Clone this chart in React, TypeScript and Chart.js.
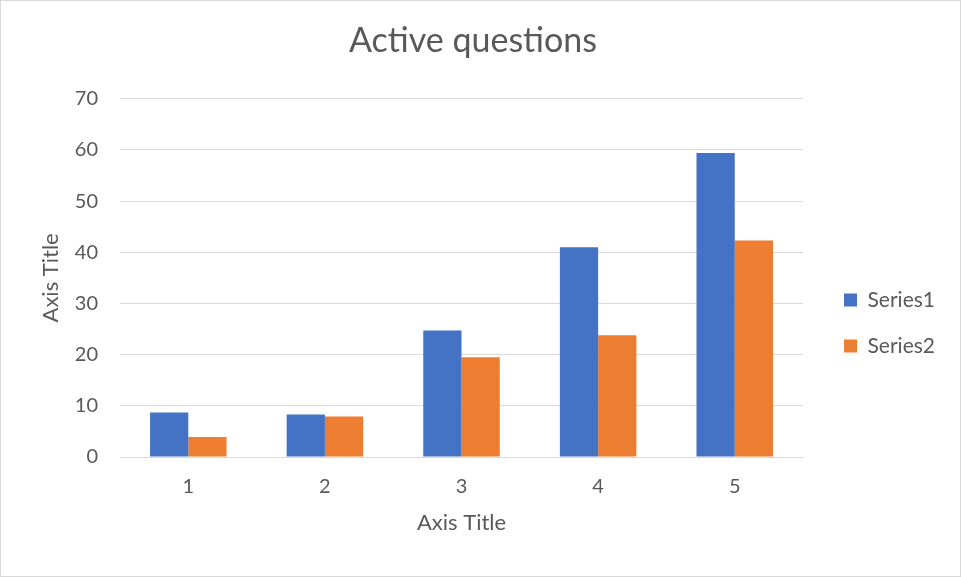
import React, { useEffect, useRef } from "react";
import { Chart, registerables } from "chart.js";

Chart.register(...registerables);

const categories = ["1", "2", "3", "4", "5"];
const series1 = [8.7, 8.3, 24.7, 41.0, 59.4];
const series2 = [3.9, 7.9, 19.5, 23.8, 42.3];
const seriesNames = ["Series1", "Series2"];
const yTicks = { min: 0, max: 70, step: 10 };

const FONT = "Lato, 'Open Sans', sans-serif";
const GRAY = "#595959";

export default function App() {
  const ref = useRef<HTMLCanvasElement | null>(null);
  useEffect(() => {
    if (!ref.current) return;
    const chart = new Chart(ref.current, {
      type: "bar",
      data: {
        labels: categories,
        datasets: [
          { label: seriesNames[0], data: series1, backgroundColor: "#4472c4", borderWidth: 0 },
          { label: seriesNames[1], data: series2, backgroundColor: "#ed7d31", borderWidth: 0 },
        ],
      },
      options: {
        animation: false,
        responsive: true,
        maintainAspectRatio: false,
        layout: { padding: { left: 0, right: 15, top: 0, bottom: 0 } },
        datasets: { bar: { categoryPercentage: 0.56, barPercentage: 1 } },
        plugins: {
          title: {
            display: true,
            text: "Active questions",
            color: GRAY,
            font: { family: FONT, size: 34, weight: "normal" },
            padding: { top: 20, bottom: 37 },
          },
          legend: {
            position: "right",
            title: {
              display: true,
              text: " ",
              font: { size: 12 },
              padding: { top: 0, bottom: 54.6 },
            },
            labels: {
              color: GRAY,
              font: { family: FONT, size: 21 },
              boxWidth: 13,
              boxHeight: 13,
              padding: 25,
            },
          },
          tooltip: { enabled: false },
        },
        scales: {
          x: {
            grid: { display: false, drawTicks: false },
            border: { color: "#d9d9d9", width: 1 },
            ticks: { color: GRAY, font: { family: FONT, size: 20 }, padding: 18 },
            title: {
              display: true,
              text: "Axis Title",
              color: GRAY,
              font: { family: FONT, size: 22 },
              padding: { top: 0, bottom: 40 },
            },
            afterFit: (s: any) => {
              s.height = 119;
            },
          },
          y: {
            min: yTicks.min,
            max: yTicks.max,
            grid: { color: "#d9d9d9", drawTicks: false, lineWidth: 1 },
            border: { display: false },
            ticks: { stepSize: yTicks.step, color: GRAY, font: { family: FONT, size: 20 }, padding: 22 },
            title: {
              display: true,
              text: "Axis Title",
              color: GRAY,
              font: { family: FONT, size: 22 },
              padding: { top: 37, bottom: 0 },
            },
            afterFit: (s: any) => {
              s.width = 119;
            },
          },
          yR: {
            type: "linear",
            position: "right",
            display: true,
            grid: { display: false, drawTicks: false },
            border: { display: false },
            ticks: { display: false },
            afterFit: (s: any) => {
              s.width = 16;
            },
          },
        },
      },
    });
    return () => chart.destroy();
  }, []);
  return (
    <div
      style={{
        position: "absolute",
        left: 0,
        top: 0,
        width: 961,
        height: 577,
        boxSizing: "border-box",
        border: "1px solid #d9d9d9",
        background: "#fff",
      }}
    >
      <canvas ref={ref} />
    </div>
  );
}
